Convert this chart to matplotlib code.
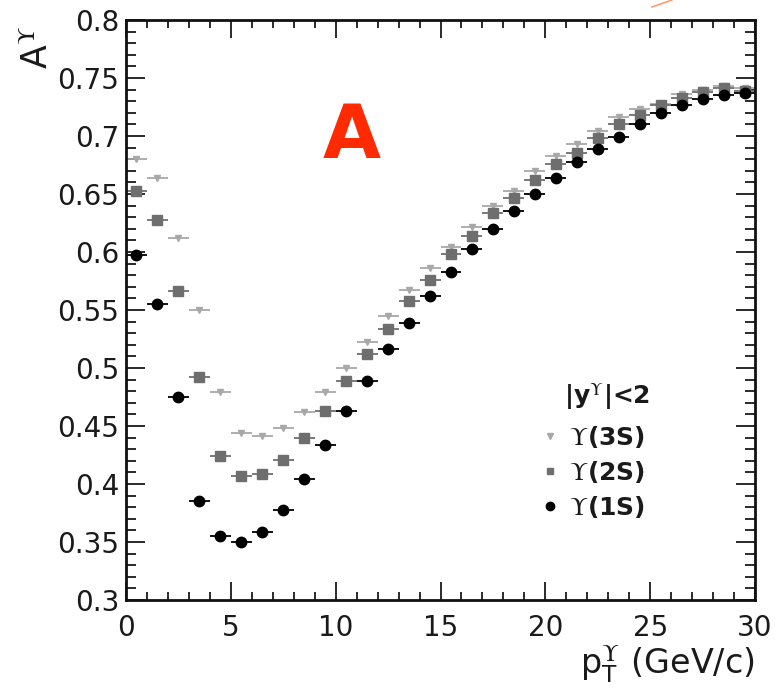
import matplotlib
matplotlib.use("Agg")
import matplotlib.pyplot as plt
from matplotlib.lines import Line2D
from matplotlib.ticker import MultipleLocator, FixedLocator

plt.rcParams['font.family'] = ['DejaVu Sans']
plt.rcParams['mathtext.fontset'] = 'stix'

# pT bin centres (GeV/c), bins of width 1
pt = [i + 0.5 for i in range(30)]
pt_halfwidth = 0.5

acc_1s = [0.597, 0.555, 0.475, 0.385, 0.355, 0.350, 0.359, 0.378, 0.404, 0.434,
          0.463, 0.489, 0.516, 0.539, 0.562, 0.583, 0.603, 0.620, 0.635, 0.650,
          0.664, 0.678, 0.689, 0.699, 0.710, 0.720, 0.727, 0.732, 0.735, 0.737]
acc_2s = [0.653, 0.628, 0.566, 0.492, 0.424, 0.407, 0.409, 0.421, 0.440, 0.463,
          0.489, 0.512, 0.534, 0.558, 0.576, 0.598, 0.614, 0.634, 0.647, 0.662,
          0.676, 0.685, 0.698, 0.710, 0.718, 0.727, 0.733, 0.738, 0.741, 0.739]
acc_3s = [0.680, 0.664, 0.612, 0.550, 0.479, 0.444, 0.441, 0.448, 0.462, 0.479,
          0.500, 0.522, 0.545, 0.567, 0.586, 0.604, 0.622, 0.640, 0.653, 0.670,
          0.683, 0.693, 0.704, 0.716, 0.723, 0.728, 0.736, 0.740, 0.743, 0.741]

labels = [r'$\Upsilon$(3S)', r'$\Upsilon$(2S)', r'$\Upsilon$(1S)']
yticks = [0.3, 0.35, 0.4, 0.45, 0.5, 0.55, 0.6, 0.65, 0.7, 0.75, 0.8]
ytick_labels = ['0.3', '0.35', '0.4', '0.45', '0.5', '0.55', '0.6', '0.65', '0.7', '0.75', '0.8']
xticks = [0, 5, 10, 15, 20, 25, 30]

fig = plt.figure(figsize=(7.75, 6.98), dpi=100)
ax = fig.add_axes([0.1626, 0.1404, 0.8116, 0.8309])

c1, c2, c3 = 'black', '#6e6e6e', '#a8a8a8'
txt = '#1a1a1a'

ax.errorbar(pt, acc_3s, xerr=pt_halfwidth, fmt='v', ms=5, color=c3, ecolor=c3,
            elinewidth=1.3, capsize=0)
ax.errorbar(pt, acc_2s, xerr=pt_halfwidth, fmt='s', ms=7, color=c2, ecolor=c2,
            elinewidth=1.3, capsize=0)
ax.errorbar(pt, acc_1s, xerr=pt_halfwidth, fmt='o', ms=7.5, color=c1, ecolor=c1,
            elinewidth=1.3, capsize=0)

ax.set_xlim(0, 30)
ax.set_ylim(0.3, 0.8)
ax.xaxis.set_major_locator(FixedLocator(xticks))
ax.xaxis.set_minor_locator(MultipleLocator(1))
ax.yaxis.set_major_locator(FixedLocator(yticks))
ax.set_yticklabels(ytick_labels)
ax.yaxis.set_minor_locator(MultipleLocator(0.01))
ax.tick_params(which='both', direction='in', top=True, right=True, width=1.3,
               labelsize=20, colors=txt)
ax.tick_params(axis='x', which='major', length=13, pad=10)
ax.tick_params(axis='x', which='minor', length=6)
ax.tick_params(axis='y', which='major', length=14, pad=5)
ax.tick_params(axis='y', which='minor', length=7)
for s in ax.spines.values():
    s.set_linewidth(2)
    s.set_color('#111111')

# axis titles, ROOT style placement
ax.text(-0.14, 0.99, r'A$^{\Upsilon}$', transform=ax.transAxes, rotation=90,
        ha='center', va='top', fontsize=25, color=txt)
ax.text(1.0, -0.128, r'p$_{\mathregular{T}}^{\Upsilon}$ (GeV/c)', transform=ax.transAxes,
        ha='right', va='baseline', fontsize=24, color=txt)

# legend: header as its own text, entries below it
ax.text(0.697, 0.35, r'|y$^{\Upsilon}$|<2', transform=ax.transAxes,
        ha='left', va='center', fontsize=18, fontweight='bold', color=txt)
handles = [Line2D([], [], ls='none', marker='v', ms=4, color=c3),
           Line2D([], [], ls='none', marker='s', ms=5, color=c2),
           Line2D([], [], ls='none', marker='o', ms=6, color=c1)]
leg = ax.legend(handles, labels, loc='upper left', bbox_to_anchor=(0.662, 0.304),
                frameon=False, fontsize=18, handlelength=0.6, handletextpad=0.45,
                labelspacing=0.36, borderpad=0, borderaxespad=0)
for t in leg.get_texts():
    t.set_fontweight('bold')
    t.set_color(txt)

# red panel letter
ax.text(0.359, 0.797, 'A', transform=ax.transAxes, ha='center', va='center',
        fontsize=54, fontweight='bold', color='#ff2a00')

# small orange stroke at the top edge of the crop
fig.add_artist(Line2D([652 / 775, 672 / 775], [1 - 7 / 698, 1.0],
                      color='#f4a070', lw=1.2, transform=fig.transFigure))

fig.savefig('out.png', dpi=100)
